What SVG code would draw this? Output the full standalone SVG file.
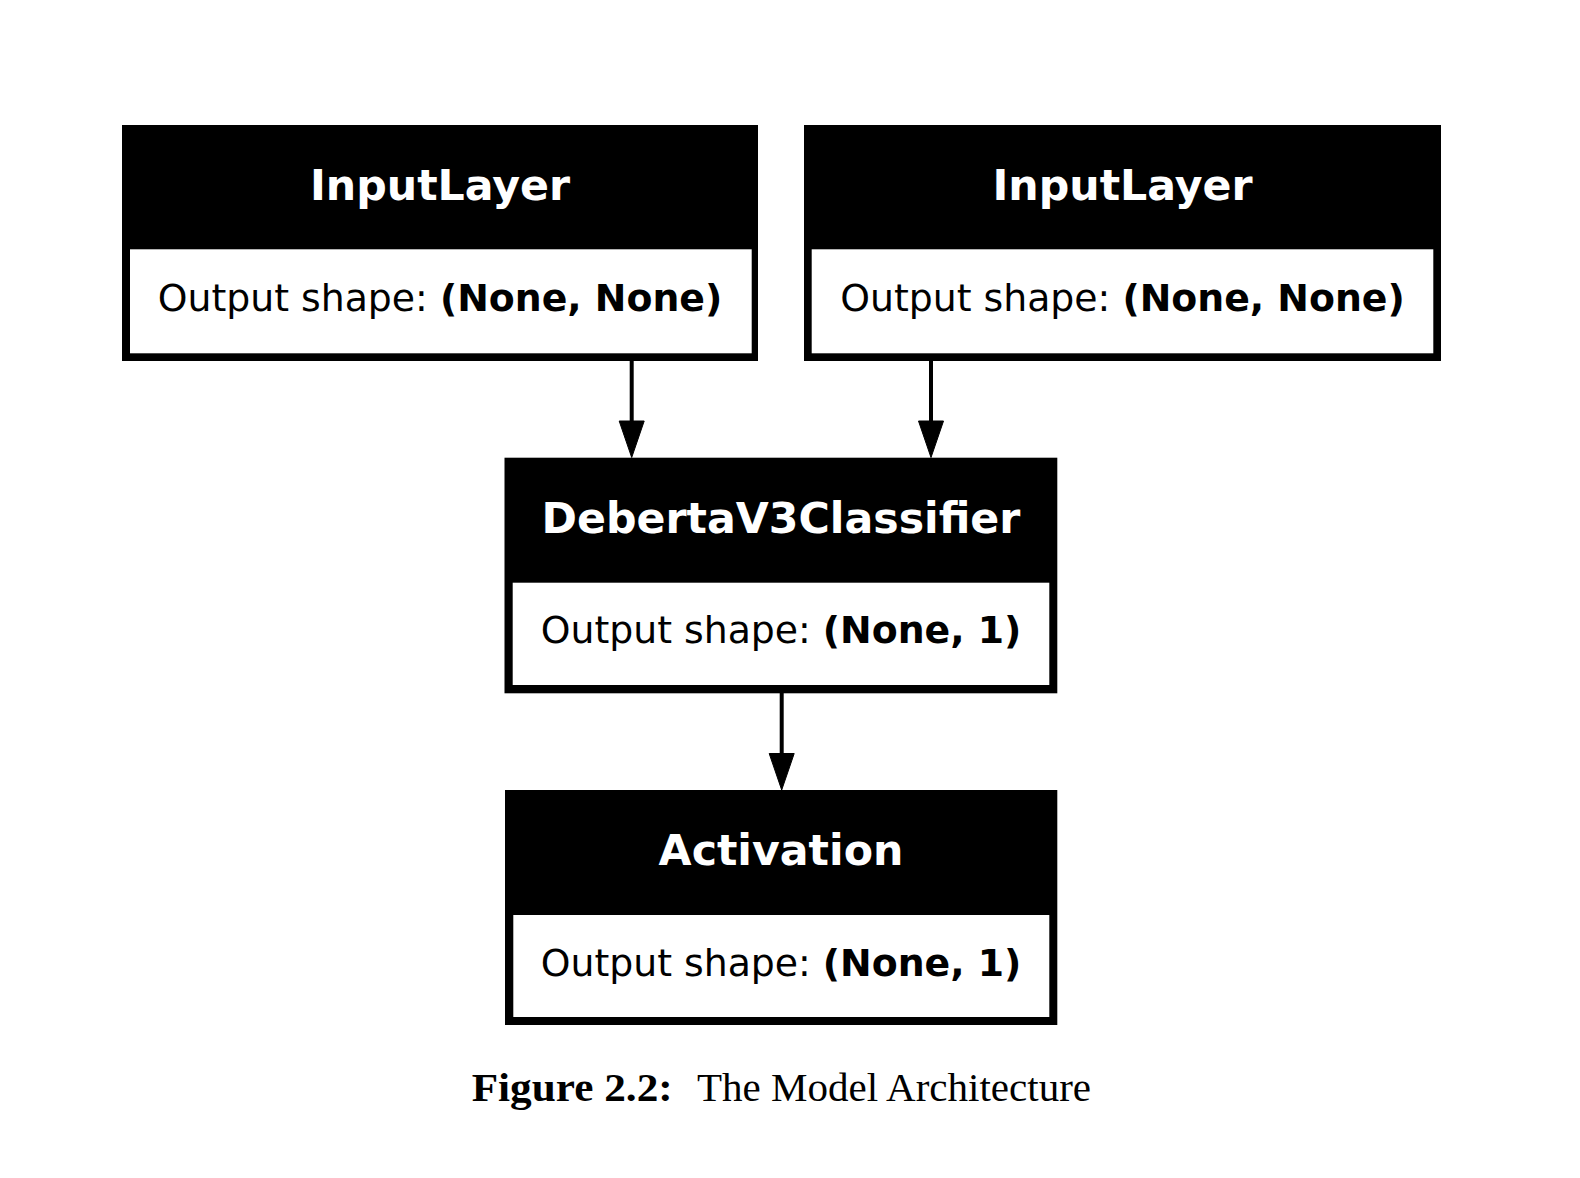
<svg xmlns="http://www.w3.org/2000/svg" width="1580" height="1178" viewBox="0 0 1580 1178">
<defs>
<style>
.outer{fill:#000}
.inner{fill:#fff}
.title{font-family:"DejaVu Sans",sans-serif;font-weight:bold;font-size:42.7px;fill:#fff;text-anchor:middle}
.body{font-family:"DejaVu Sans",sans-serif;font-size:37.8px;fill:#000;text-anchor:middle}
.b{font-weight:bold}
.edge{stroke:#000;stroke-width:4;fill:none}
.head{fill:#000;stroke:#000;stroke-width:1}
.cap{font-family:"Liberation Serif",serif;font-size:40px;fill:#000}
</style>
</defs>
<rect width="1580" height="1178" fill="#fff"/>
<g id="input1">
<rect class="outer" x="122" y="125" width="636" height="236"/>
<rect class="inner" x="130" y="249.3" width="621.7" height="104"/>
<text class="title" x="440" y="200">InputLayer</text>
<text class="body" x="440" y="311">Output shape: <tspan class="b">(None, None)</tspan></text>
</g>
<g id="input2">
<rect class="outer" x="804" y="125" width="637" height="236"/>
<rect class="inner" x="811.7" y="249.3" width="621.6" height="104"/>
<text class="title" x="1122.5" y="200">InputLayer</text>
<text class="body" x="1122.5" y="311">Output shape: <tspan class="b">(None, None)</tspan></text>
</g>
<g id="classifier">
<rect class="outer" x="504.5" y="457.7" width="552.8" height="235.6"/>
<rect class="inner" x="512.7" y="582.7" width="536.6" height="102.3"/>
<text class="title" x="781" y="532.5">DebertaV3Classifier</text>
<text class="body" x="781" y="643">Output shape: <tspan class="b">(None, 1)</tspan></text>
</g>
<g id="activation">
<rect class="outer" x="505" y="790" width="552.3" height="235"/>
<rect class="inner" x="513.3" y="915" width="536" height="102"/>
<text class="title" x="781" y="865">Activation</text>
<text class="body" x="781" y="975.5">Output shape: <tspan class="b">(None, 1)</tspan></text>
</g>
<g id="connectors">
<line class="edge" x1="631.7" y1="361" x2="631.7" y2="422"/>
<polygon class="head" points="619.2,421 644.2,421 631.7,457.5"/>
<line class="edge" x1="931" y1="361" x2="931" y2="422"/>
<polygon class="head" points="918.5,421 943.5,421 931,457.5"/>
<line class="edge" x1="781.7" y1="693" x2="781.7" y2="755"/>
<polygon class="head" points="769.2,753.5 794.2,753.5 781.7,790"/>
</g>
<g id="caption">
<text class="cap" x="471.7" y="1101" font-weight="bold" textLength="201" lengthAdjust="spacingAndGlyphs">Figure 2.2:</text>
<text class="cap" x="697" y="1101" textLength="394" lengthAdjust="spacingAndGlyphs">The Model Architecture</text>
</g>
</svg>
